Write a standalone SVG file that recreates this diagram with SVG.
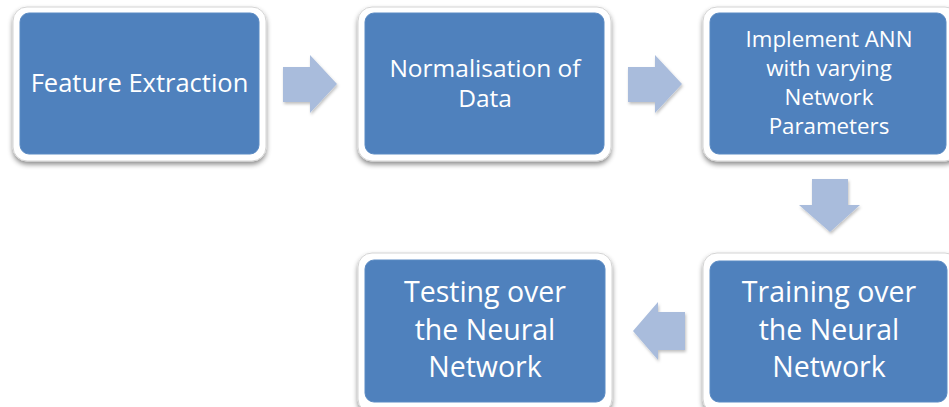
<svg xmlns="http://www.w3.org/2000/svg" width="949" height="407" viewBox="0 0 949 407">
<defs>
<filter id="sh" x="-10%" y="-10%" width="120%" height="130%">
<feDropShadow dx="0" dy="3" stdDeviation="2.5" flood-color="#000" flood-opacity="0.45"/>
</filter>
<filter id="ash" x="-20%" y="-20%" width="140%" height="140%">
<feDropShadow dx="1" dy="2" stdDeviation="1.5" flood-color="#000" flood-opacity="0.25"/>
</filter>
</defs>
<style>
.frame{fill:#fff;stroke:#d4d4d4;stroke-width:1;filter:url(#sh)}
.box{fill:#4f81bd;stroke:#5b8bc4;stroke-width:1}
.t{fill:#fff;font-family:"Open Sans","Noto Sans",sans-serif;text-anchor:middle}
.arr{fill:#a9bcdc;filter:url(#ash)}
</style>
<rect width="949" height="407" fill="#fff"/>
<g id="connectors">
<polygon class="arr" points="283,67 310,67 310,55 337,84 310,113 310,102 283,102"/>
<polygon class="arr" points="628,67 655,67 655,55 682,84 655,113 655,102 628,102"/>
<polygon class="arr" points="812,179 848,179 848,205 860,205 830,232 799,205 812,205"/>
<polygon class="arr" points="685,312 658,312 658,302 633,331 658,360 658,350 685,350"/>
</g>
<g id="n1">
<rect class="frame" x="13" y="7" width="253" height="154" rx="14"/>
<rect class="box" x="20" y="13" width="239" height="141" rx="9"/>
<text class="t" x="139.5" y="92" font-size="25.5">Feature Extraction</text>
</g>
<g id="n2">
<rect class="frame" x="358" y="7" width="253" height="154" rx="14"/>
<rect class="box" x="365" y="13" width="239" height="141" rx="9"/>
<text class="t" x="485" y="77" font-size="24.5">Normalisation of</text>
<text class="t" x="485" y="107" font-size="24.5">Data</text>
</g>
<g id="n3">
<rect class="frame" x="703" y="7" width="256" height="154" rx="14"/>
<rect class="box" x="710" y="13" width="236" height="141" rx="9"/>
<text class="t" x="829" y="47" font-size="22.3">Implement ANN</text>
<text class="t" x="829" y="76" font-size="22.3">with varying</text>
<text class="t" x="829" y="105" font-size="22.3">Network</text>
<text class="t" x="829" y="134" font-size="22.3">Parameters</text>
</g>
<g id="n4">
<rect class="frame" x="703" y="253" width="256" height="160" rx="14"/>
<rect class="box" x="710" y="261" width="237" height="141" rx="9"/>
<text class="t" x="829" y="302" font-size="28.5">Training over</text>
<text class="t" x="829" y="340" font-size="28.5">the Neural</text>
<text class="t" x="829" y="377" font-size="28.5">Network</text>
</g>
<g id="n5">
<rect class="frame" x="358" y="253" width="254" height="160" rx="14"/>
<rect class="box" x="365" y="260" width="240" height="142" rx="9"/>
<text class="t" x="485" y="302" font-size="28.5">Testing over</text>
<text class="t" x="485" y="340" font-size="28.5">the Neural</text>
<text class="t" x="485" y="377" font-size="28.5">Network</text>
</g>
</svg>
